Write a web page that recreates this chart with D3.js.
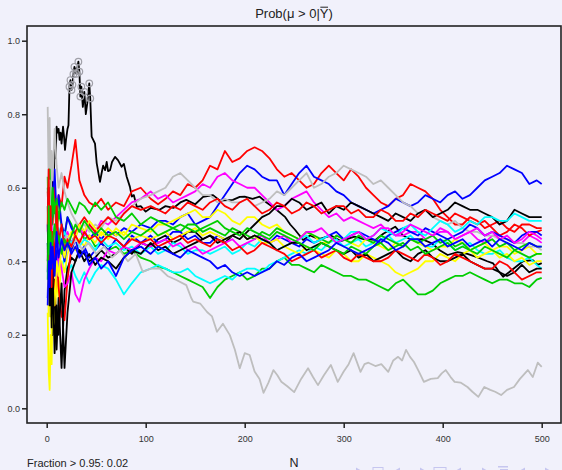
<!DOCTYPE html>
<html lang="en">
<head>
<meta charset="UTF-8">
<title>Prob(mu > 0 | Ybar)</title>
<script src="https://d3js.org/d3.v7.min.js"></script>
<style>
  html, body { margin: 0; padding: 0; background: #f1f1fb; }
  svg { display: block; font-family: "Liberation Sans", Arial, sans-serif; }
</style>
</head>
<body>
<div id="chart"></div>
<script>
// ---- data ----
var xTicks = [0, 100, 200, 300, 400, 500];
var yTicks = [0, 0.2, 0.4, 0.6, 0.8, 1.0];
var footNote = "Fraction > 0.95: 0.02";

// shared N grid for most paths
var nGrid = [1,2,3,4,5,6,8,10,12,15,18,21,25,29,33,38,43,49,55,62,70,78,86,95,
  105,112.5,120,127.5,135,142.5,150,157.5,165,172.5,180,187.5,195,202.5,210,217.5,225,232.5,240,247.5,255,262.5,
  270,277.5,285,292.5,300,307.5,315,322.5,330,337.5,345,352.5,360,367.5,375,382.5,390,397.5,405,412.5,420,427.5,
  435,442.5,450,457.5,465,472.5,480,487.5,495,500];

// black path with the early peak, own N values
var blackPeak = [[1,0.50],[2,0.36],[3,0.62],[4,0.42],[5,0.55],[6,0.66],[7,0.60],[8,0.71],[9,0.68],[10,0.766],[11,0.75],
  [12,0.76],[13,0.73],[14,0.75],[15,0.72],[16.5,0.766],[17.5,0.74],[18.5,0.703],[19.5,0.73],[21,0.76],[22,0.77],
  [23,0.875],[24,0.893],[25,0.866],[26,0.88],[27,0.909],[28,0.929],[30,0.91],[32,0.943],[33,0.916],[34,0.848],
  [35,0.875],[36.5,0.82],[38,0.861],[39.5,0.80],[41,0.83],[43,0.884],[44,0.843],[45.4,0.739],[47,0.73],[48.8,0.72],
  [50.5,0.667],[53.8,0.616],[55.5,0.64],[57,0.66],[59,0.648],[60.6,0.67],[62,0.645],[64,0.648],[66,0.67],[69,0.684],
  [72,0.675],[75.7,0.657],[78,0.665],[80.8,0.63],[84,0.603],[86,0.576],[88,0.58],[91,0.548],[95,0.55],[100,0.535],
  [105,0.545],[114,0.54],[120,0.55],[128,0.545],[135,0.56],[141,0.567],[150,0.555],[158,0.575],[168,0.58],[175,0.565],
  [188,0.567],[195,0.575],[200,0.576],[208,0.57],[215,0.576],[222,0.56],[230,0.545],[241,0.52],[246,0.50],[251,0.485],
  [259,0.458],[266,0.47],[275,0.46],[287,0.47],[297,0.455],[311,0.467],[320,0.46],[332,0.458],[340,0.475],[352,0.494],
  [360,0.47],[369,0.458],[379,0.46],[389,0.449],[397,0.43],[405,0.417],[415,0.425],[425,0.42],[436,0.41],[445,0.40],
  [451,0.394],[456,0.375],[461,0.358],[467,0.37],[474,0.385],[481,0.40],[491,0.403],[496,0.39],[500,0.395]];

// grey path that sinks towards zero, own N values
var greyLow = [[1,0.55],[2,0.45],[3,0.62],[4,0.40],[6,0.48],[8,0.44],[12,0.46],[16,0.43],[20,0.47],[25,0.44],[30,0.46],
  [36,0.43],[42,0.45],[50,0.42],[58,0.44],[66,0.41],[74,0.43],[82,0.40],[90,0.42],[97,0.371],[105,0.38],[114,0.381],
  [122,0.36],[131,0.349],[141,0.335],[146,0.30],[148,0.29],[155,0.285],[162,0.262],[167,0.25],[172,0.208],[178,0.23],
  [185,0.199],[190,0.16],[195,0.109],[200,0.15],[205,0.145],[210,0.10],[215,0.08],[219,0.042],[224,0.07],[229,0.104],
  [233,0.09],[237,0.072],[243,0.06],[250,0.044],[257,0.08],[264,0.109],[269,0.085],[274,0.063],[280,0.09],[287,0.118],
  [294,0.072],[300,0.10],[305,0.12],[310,0.15],[317,0.099],[321,0.12],[325,0.124],[332,0.115],[338,0.12],[345,0.099],
  [350,0.13],[355,0.14],[359,0.13],[363,0.159],[367,0.14],[371,0.126],[376,0.10],[381,0.072],[388,0.08],[395,0.082],
  [399,0.095],[403,0.104],[408,0.085],[412,0.072],[418,0.07],[425,0.058],[430,0.045],[436,0.031],[442,0.058],[448,0.05],
  [453,0.045],[459,0.036],[465,0.05],[472,0.058],[478,0.08],[486,0.104],[491,0.085],[496,0.124],[500,0.113]];

// values on nGrid
var redHigh = [0.59,0.50,0.58,0.45,0.55,0.50,0.60,0.52,0.58,0.55,0.63,0.60,0.66,0.73,0.62,0.58,0.56,0.55,0.57,0.54,0.56,0.55,0.59,0.60,
  0.57,0.555,0.57,0.59,0.58,0.61,0.60,0.62,0.66,0.65,0.70,0.67,0.68,0.70,0.71,0.70,0.68,0.65,0.63,0.64,0.62,0.60,0.61,0.64,0.66,0.64,0.62,
  0.65,0.63,0.60,0.58,0.56,0.55,0.57,0.58,0.61,0.60,0.59,0.57,0.54,0.52,0.50,0.50,0.52,0.51,0.49,0.50,0.51,0.49,0.48,0.50,0.50,0.49,0.49];
var greenLow = [0.63,0.45,0.58,0.50,0.60,0.52,0.56,0.48,0.53,0.50,0.47,0.52,0.50,0.47,0.49,0.46,0.47,0.44,0.45,0.43,0.44,0.42,0.43,0.41,
  0.40,0.385,0.38,0.37,0.36,0.35,0.34,0.33,0.30,0.33,0.35,0.36,0.37,0.35,0.36,0.38,0.38,0.40,0.41,0.39,0.39,0.38,0.37,0.39,0.38,0.37,0.36,
  0.36,0.35,0.35,0.34,0.33,0.32,0.34,0.35,0.33,0.31,0.31,0.32,0.34,0.35,0.36,0.36,0.37,0.36,0.35,0.34,0.35,0.35,0.34,0.34,0.33,0.35,0.355];
var blueHigh = [0.37,0.55,0.45,0.60,0.50,0.58,0.65,0.52,0.58,0.50,0.47,0.52,0.49,0.47,0.50,0.48,0.46,0.48,0.46,0.48,0.47,0.49,0.48,0.50,
  0.49,0.51,0.51,0.50,0.52,0.53,0.50,0.51,0.52,0.55,0.58,0.61,0.64,0.66,0.65,0.63,0.62,0.62,0.58,0.61,0.64,0.66,0.63,0.62,0.61,0.59,0.58,
  0.56,0.55,0.54,0.53,0.54,0.55,0.57,0.56,0.55,0.56,0.58,0.57,0.56,0.58,0.59,0.57,0.58,0.60,0.62,0.63,0.64,0.66,0.65,0.64,0.61,0.62,0.61];
var cyanLow = [0.45,0.35,0.50,0.40,0.46,0.38,0.42,0.36,0.40,0.38,0.41,0.37,0.39,0.36,0.34,0.37,0.34,0.37,0.39,0.38,0.35,0.31,0.34,0.37,
  0.38,0.39,0.38,0.37,0.37,0.38,0.36,0.35,0.34,0.35,0.36,0.35,0.37,0.38,0.38,0.37,0.39,0.40,0.41,0.42,0.43,0.42,0.44,0.43,0.45,0.46,0.44,
  0.45,0.46,0.44,0.45,0.46,0.47,0.45,0.46,0.47,0.45,0.44,0.44,0.46,0.45,0.43,0.44,0.45,0.43,0.42,0.42,0.43,0.41,0.40,0.40,0.41,0.39,0.38];
var magentaHigh = [0.50,0.40,0.55,0.45,0.50,0.42,0.48,0.44,0.47,0.43,0.46,0.48,0.45,0.47,0.49,0.47,0.50,0.48,0.51,0.50,0.52,0.54,0.56,0.57,
  0.59,0.57,0.58,0.56,0.57,0.58,0.59,0.61,0.60,0.63,0.64,0.62,0.61,0.60,0.60,0.58,0.56,0.54,0.55,0.57,0.58,0.59,0.56,0.54,0.52,0.53,0.51,
  0.52,0.51,0.50,0.49,0.50,0.48,0.47,0.47,0.48,0.48,0.46,0.47,0.48,0.48,0.46,0.47,0.48,0.46,0.45,0.47,0.47,0.46,0.45,0.45,0.47,0.46,0.45];
var yellowLow = [0.26,0.10,0.05,0.20,0.12,0.30,0.22,0.35,0.30,0.40,0.37,0.42,0.45,0.43,0.46,0.44,0.47,0.45,0.48,0.46,0.49,0.47,0.50,0.49,
  0.48,0.50,0.50,0.51,0.52,0.53,0.54,0.52,0.52,0.54,0.53,0.51,0.50,0.52,0.52,0.50,0.49,0.50,0.48,0.47,0.46,0.48,0.47,0.45,0.45,0.47,0.46,
  0.45,0.44,0.46,0.45,0.44,0.43,0.45,0.44,0.46,0.45,0.44,0.43,0.44,0.44,0.46,0.45,0.43,0.44,0.45,0.43,0.44,0.44,0.42,0.43,0.44,0.42,0.42];
var greyHigh = [0.82,0.60,0.79,0.55,0.70,0.62,0.76,0.66,0.60,0.64,0.59,0.56,0.53,0.51,0.49,0.50,0.48,0.50,0.49,0.52,0.51,0.53,0.55,0.57,
  0.58,0.59,0.60,0.63,0.64,0.62,0.60,0.58,0.58,0.56,0.57,0.56,0.56,0.57,0.55,0.56,0.57,0.59,0.58,0.60,0.62,0.64,0.60,0.61,0.63,0.64,0.66,
  0.65,0.64,0.63,0.61,0.62,0.60,0.58,0.56,0.55,0.53,0.54,0.52,0.51,0.50,0.51,0.49,0.48,0.48,0.47,0.47,0.46,0.46,0.45,0.45,0.44,0.44,0.43];
var blackMid = [0.45,0.30,0.50,0.25,0.42,0.20,0.35,0.16,0.30,0.11,0.32,0.38,0.41,0.40,0.43,0.42,0.40,0.41,0.43,0.41,0.42,0.44,0.42,0.45,
  0.44,0.46,0.47,0.45,0.46,0.48,0.48,0.46,0.47,0.46,0.45,0.47,0.46,0.48,0.50,0.52,0.53,0.55,0.55,0.57,0.56,0.54,0.55,0.56,0.53,0.55,0.54,
  0.56,0.55,0.54,0.53,0.52,0.51,0.53,0.52,0.51,0.53,0.54,0.52,0.53,0.54,0.56,0.55,0.54,0.54,0.53,0.52,0.50,0.51,0.54,0.53,0.52,0.52,0.52];
var redMid = [0.55,0.35,0.48,0.30,0.45,0.38,0.28,0.42,0.33,0.25,0.24,0.35,0.44,0.48,0.50,0.52,0.50,0.48,0.50,0.52,0.50,0.53,0.55,0.54,
  0.55,0.54,0.53,0.55,0.54,0.56,0.55,0.54,0.56,0.57,0.55,0.54,0.56,0.57,0.55,0.53,0.54,0.56,0.55,0.53,0.54,0.56,0.55,0.53,0.54,0.55,0.55,
  0.53,0.54,0.52,0.52,0.54,0.53,0.51,0.51,0.53,0.52,0.54,0.53,0.52,0.51,0.53,0.52,0.51,0.50,0.51,0.49,0.47,0.48,0.50,0.49,0.47,0.48,0.485];
var greenMid = [0.60,0.52,0.65,0.55,0.50,0.60,0.53,0.57,0.52,0.56,0.54,0.57,0.55,0.53,0.56,0.55,0.53,0.56,0.54,0.56,0.52,0.51,0.53,0.50,
  0.52,0.51,0.50,0.49,0.48,0.50,0.50,0.48,0.49,0.48,0.47,0.49,0.48,0.47,0.46,0.48,0.47,0.49,0.48,0.47,0.46,0.48,0.47,0.46,0.45,0.47,0.46,
  0.45,0.47,0.46,0.45,0.47,0.46,0.45,0.44,0.46,0.45,0.46,0.47,0.45,0.46,0.44,0.45,0.43,0.44,0.45,0.46,0.44,0.45,0.43,0.44,0.45,0.44,0.44];
var blueMid = [0.30,0.45,0.35,0.50,0.42,0.36,0.45,0.40,0.48,0.44,0.40,0.45,0.43,0.46,0.42,0.44,0.41,0.43,0.45,0.43,0.46,0.44,0.47,0.45,
  0.47,0.45,0.46,0.48,0.48,0.46,0.47,0.45,0.45,0.47,0.46,0.47,0.48,0.46,0.47,0.46,0.45,0.47,0.46,0.45,0.44,0.46,0.45,0.46,0.47,0.48,0.46,
  0.47,0.48,0.47,0.46,0.45,0.47,0.48,0.49,0.48,0.47,0.49,0.48,0.47,0.46,0.47,0.48,0.50,0.49,0.47,0.48,0.47,0.46,0.45,0.47,0.48,0.48,0.47];
var cyanMid = [0.55,0.45,0.52,0.42,0.48,0.44,0.50,0.46,0.49,0.45,0.48,0.46,0.45,0.47,0.44,0.46,0.45,0.43,0.46,0.44,0.45,0.43,0.44,0.42,
  0.44,0.42,0.43,0.45,0.44,0.42,0.43,0.43,0.42,0.43,0.44,0.42,0.43,0.45,0.44,0.46,0.45,0.43,0.44,0.45,0.46,0.47,0.45,0.46,0.47,0.45,0.46,
  0.48,0.48,0.46,0.47,0.49,0.48,0.47,0.49,0.50,0.48,0.47,0.49,0.51,0.50,0.48,0.49,0.51,0.50,0.52,0.52,0.51,0.51,0.53,0.52,0.51,0.51,0.51];
var magentaLow = [0.48,0.60,0.38,0.52,0.35,0.45,0.40,0.36,0.42,0.38,0.33,0.34,0.37,0.31,0.29,0.35,0.38,0.41,0.40,0.43,0.42,0.44,0.43,0.45,
  0.44,0.45,0.46,0.44,0.45,0.43,0.44,0.42,0.43,0.44,0.45,0.46,0.44,0.45,0.46,0.47,0.45,0.46,0.47,0.45,0.46,0.48,0.48,0.49,0.47,0.45,0.46,
  0.47,0.48,0.46,0.47,0.49,0.49,0.47,0.48,0.50,0.49,0.48,0.47,0.49,0.48,0.46,0.47,0.48,0.49,0.47,0.48,0.46,0.47,0.45,0.46,0.48,0.47,0.46];
var yellowMid = [0.40,0.25,0.45,0.30,0.20,0.35,0.28,0.40,0.36,0.44,0.41,0.46,0.48,0.46,0.50,0.48,0.51,0.49,0.47,0.49,0.47,0.48,0.46,0.47,
  0.46,0.47,0.48,0.46,0.47,0.48,0.49,0.47,0.48,0.47,0.46,0.47,0.48,0.46,0.47,0.45,0.45,0.46,0.44,0.43,0.42,0.44,0.43,0.42,0.41,0.43,0.42,
  0.40,0.40,0.42,0.41,0.40,0.39,0.37,0.36,0.37,0.38,0.40,0.40,0.42,0.41,0.40,0.42,0.43,0.41,0.42,0.43,0.41,0.42,0.40,0.41,0.39,0.40,0.40];
var blackLow = [0.40,0.60,0.28,0.45,0.22,0.38,0.15,0.28,0.20,0.34,0.11,0.26,0.37,0.40,0.43,0.40,0.42,0.39,0.41,0.40,0.38,0.41,0.43,0.42,
  0.45,0.43,0.44,0.42,0.43,0.44,0.45,0.46,0.47,0.45,0.46,0.47,0.48,0.46,0.47,0.46,0.45,0.43,0.44,0.45,0.45,0.43,0.44,0.45,0.44,0.43,0.42,
  0.43,0.41,0.42,0.40,0.41,0.42,0.43,0.41,0.40,0.42,0.43,0.41,0.40,0.40,0.41,0.42,0.40,0.39,0.38,0.38,0.37,0.36,0.37,0.39,0.37,0.38,0.38];
var redLow = [0.50,0.65,0.40,0.55,0.33,0.48,0.40,0.55,0.45,0.50,0.43,0.46,0.44,0.47,0.45,0.48,0.46,0.47,0.45,0.47,0.46,0.44,0.46,0.45,
  0.46,0.44,0.45,0.46,0.47,0.45,0.46,0.45,0.44,0.46,0.45,0.43,0.44,0.42,0.43,0.45,0.44,0.43,0.42,0.40,0.41,0.42,0.43,0.41,0.42,0.43,0.41,
  0.40,0.42,0.41,0.40,0.40,0.41,0.43,0.42,0.41,0.40,0.42,0.41,0.39,0.40,0.42,0.41,0.40,0.39,0.38,0.38,0.40,0.39,0.37,0.35,0.36,0.37,0.37];
var greenEnd = [0.35,0.55,0.42,0.48,0.40,0.45,0.50,0.44,0.47,0.42,0.46,0.44,0.47,0.50,0.48,0.51,0.49,0.47,0.49,0.47,0.48,0.46,0.48,0.47,
  0.49,0.47,0.48,0.49,0.50,0.49,0.48,0.49,0.50,0.51,0.49,0.48,0.47,0.49,0.48,0.47,0.46,0.48,0.47,0.46,0.45,0.44,0.43,0.45,0.44,0.43,0.42,
  0.44,0.43,0.42,0.44,0.45,0.43,0.44,0.45,0.43,0.44,0.42,0.43,0.44,0.45,0.43,0.44,0.43,0.42,0.44,0.43,0.42,0.41,0.43,0.42,0.41,0.42,0.42];
var blueLow = [0.28,0.40,0.33,0.45,0.38,0.44,0.36,0.48,0.41,0.46,0.43,0.45,0.42,0.44,0.41,0.43,0.39,0.41,0.38,0.40,0.36,0.41,0.43,0.44,
  0.42,0.44,0.43,0.42,0.41,0.43,0.42,0.41,0.40,0.38,0.39,0.37,0.36,0.37,0.36,0.37,0.38,0.40,0.39,0.41,0.42,0.40,0.41,0.42,0.43,0.45,0.44,
  0.43,0.42,0.43,0.44,0.46,0.45,0.43,0.44,0.46,0.46,0.44,0.45,0.46,0.44,0.45,0.46,0.44,0.45,0.46,0.44,0.46,0.45,0.44,0.43,0.45,0.44,0.44];

// R default palette, recycled over the 20 paths
var palette = ["#000000", "#ff0000", "#00cd00", "#0000ff", "#00ffff", "#ff00ff", "#ffff00", "#bebebe"];

function onGrid(vals) {
  return nGrid.map(function(n, i) { return [n, vals[i]]; })
    .filter(function(d) { return d[1] != null; });
}

var paths = [
  blackPeak, onGrid(redHigh), onGrid(greenLow), onGrid(blueHigh), onGrid(cyanLow), onGrid(magentaHigh), onGrid(yellowLow), onGrid(greyHigh),
  onGrid(blackMid), onGrid(redMid), onGrid(greenMid), onGrid(blueMid), onGrid(cyanMid), onGrid(magentaLow), onGrid(yellowMid), greyLow,
  onGrid(blackLow), onGrid(redLow), onGrid(greenEnd), onGrid(blueLow)
];

// ---- layout ----
var W = 562, H = 470;
var box = {left: 27, top: 26, right: 561, bottom: 423};

var svg = d3.select("#chart").append("svg")
    .attr("width", W).attr("height", H);

svg.append("rect").attr("width", W).attr("height", H).attr("fill", "#f1f1fb");

var x = d3.scaleLinear().domain([0, 500]).range([46.7, 541.7]);
var y = d3.scaleLinear().domain([0, 1]).range([408.3, 40.7]);

svg.append("clipPath").attr("id", "plotclip")
  .append("rect")
    .attr("x", box.left).attr("y", box.top)
    .attr("width", box.right - box.left).attr("height", box.bottom - box.top);

var line = d3.line()
    .x(function(d) { return x(d[0]); })
    .y(function(d) { return y(d[1]); });

var g = svg.append("g").attr("clip-path", "url(#plotclip)");

g.selectAll("path.series")
  .data(paths)
  .enter().append("path")
    .attr("class", "series")
    .attr("d", line)
    .attr("fill", "none")
    .attr("stroke", function(d, i) { return palette[i % palette.length]; })
    .attr("stroke-width", 1.8)
    .attr("stroke-linejoin", "round");

// grey rings on the black path where it runs high
g.selectAll("circle.hi")
  .data(blackPeak.filter(function(d) { return d[1] >= 0.84; }))
  .enter().append("circle")
    .attr("cx", function(d) { return x(d[0]); })
    .attr("cy", function(d) { return y(d[1]); })
    .attr("r", 3.3)
    .attr("fill", "none")
    .attr("stroke", "#a0a0a8")
    .attr("stroke-width", 1.2);

// frame
svg.append("rect")
    .attr("x", box.left).attr("y", box.top)
    .attr("width", box.right - box.left).attr("height", box.bottom - box.top)
    .attr("fill", "none").attr("stroke", "#222").attr("stroke-width", 1.6);

// axes
var yAxis = svg.append("g")
    .attr("transform", "translate(" + box.left + ",0)")
    .call(d3.axisLeft(y).tickValues(yTicks).tickSize(5).tickPadding(2).tickFormat(d3.format(".1f")));
var xAxis = svg.append("g")
    .attr("transform", "translate(0," + box.bottom + ")")
    .call(d3.axisBottom(x).tickValues(xTicks).tickSize(5).tickPadding(8));

[yAxis, xAxis].forEach(function(a) {
  a.select(".domain").remove();
  a.selectAll(".tick line").attr("stroke", "#222").attr("stroke-width", 1.5);
  a.selectAll(".tick text").attr("fill", "#333").style("font-size", "9px")
    .style("font-family", "\"Liberation Sans\", Arial, sans-serif");
});

// title with an overlined Y
var title = svg.append("text")
    .attr("x", 294).attr("y", 18)
    .attr("text-anchor", "middle")
    .style("font-size", "13px")
    .attr("fill", "#222")
    .text("Prob(\u03bc > 0|Y)");
var tnode = title.node();
var ext = tnode.getExtentOfChar(tnode.getNumberOfChars() - 2);
svg.append("line")
    .attr("x1", ext.x + 0.5).attr("x2", ext.x + ext.width - 0.5)
    .attr("y1", ext.y + 1.2).attr("y2", ext.y + 1.2)
    .attr("stroke", "#222").attr("stroke-width", 1);

svg.append("text")
    .attr("x", 294).attr("y", 467)
    .attr("text-anchor", "middle")
    .style("font-size", "12.5px")
    .attr("fill", "#222")
    .text("N");

svg.append("text")
    .attr("x", 27).attr("y", 467)
    .style("font-size", "11px")
    .attr("fill", "#222")
    .text(footNote);

// faint navigation symbols, cut by the page edge
var navCol = "#c6c6ef";
var nav = svg.append("g").attr("fill", navCol).attr("stroke", "none");
[359, 397, 423, 458, 485, 522, 548].forEach(function(cx, i) {
  var dir = (i % 2 === 0) ? -1 : 1;
  nav.append("path").attr("d", "M" + (cx + dir * 3) + ",467.5 L" + (cx - dir * 3) + ",471 L" + (cx + dir * 3) + ",474 Z");
});
nav.append("rect").attr("x", 373).attr("y", 467.5).attr("width", 10).attr("height", 6)
    .attr("fill", "none").attr("stroke", navCol);
nav.append("rect").attr("x", 434).attr("y", 467.5).attr("width", 12).attr("height", 6)
    .attr("fill", "none").attr("stroke", navCol);
nav.append("rect").attr("x", 498).attr("y", 466).attr("width", 10).attr("height", 1.5);
nav.append("rect").attr("x", 500).attr("y", 469).attr("width", 8).attr("height", 1.5);
</script>
</body>
</html>
